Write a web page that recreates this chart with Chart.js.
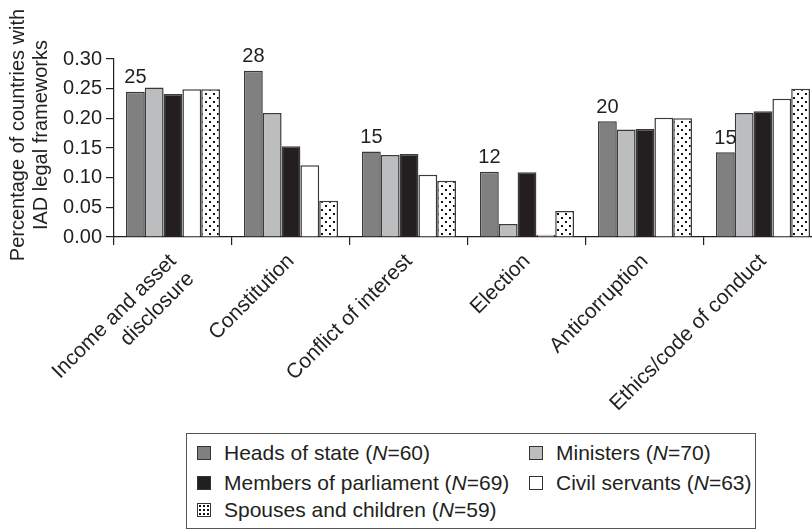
<!DOCTYPE html>
<html>
<head>
<meta charset="utf-8">
<script src="https://cdn.jsdelivr.net/npm/chart.js@4.4.1/dist/chart.umd.min.js"></script>
<style>
  html, body { margin: 0; padding: 0; background: #fff; overflow: hidden; width: 812px; height: 530px; }
  #wrap { position: absolute; left: 0; top: 0; width: 830px; height: 430px; }
  #legend { position: absolute; left: 186px; top: 433px; width: 570px; height: 96px; border: 1px solid #555;
            box-sizing: border-box; font-family: 'Liberation Sans', Arial, sans-serif; font-size: 21px; color: #231f20; }
  .item { position: absolute; height: 24px; line-height: 24px; display: flex; align-items: center; white-space: nowrap; }
  .sw { width: 12px; height: 12px; border: 1px solid #333; margin-right: 13px; flex: none; }
</style>
</head>
<body>
<div id="wrap"><canvas id="chart" width="830" height="430"></canvas></div>
<div id="legend"></div>
<script>
const categories = [['Income and asset', 'disclosure'], 'Constitution', 'Conflict of interest', 'Election', 'Anticorruption', 'Ethics/code of conduct'];
const countLabels = ['25', '28', '15', '12', '20', '15'];

const seriesNames = ['Heads of state', 'Ministers', 'Members of parliament', 'Civil servants', 'Spouses and children'];
const seriesN = [60, 70, 69, 63, 59];

const headsOfState = [0.245, 0.280, 0.144, 0.110, 0.195, 0.143];
const ministers = [0.252, 0.209, 0.138, 0.022, 0.181, 0.209];
const parliament = [0.241, 0.153, 0.140, 0.109, 0.182, 0.212];
const civilServants = [0.249, 0.121, 0.105, 0.004, 0.201, 0.233];
const spouses = [0.249, 0.061, 0.095, 0.044, 0.200, 0.250];

const yTicks = [0, 0.05, 0.10, 0.15, 0.20, 0.25, 0.30];

const ink = '#231f20';
const font = "'Liberation Sans', Arial, sans-serif";

const ctx = document.getElementById('chart').getContext('2d');

function dotPattern() {
    const c = document.createElement('canvas');
    c.width = 8; c.height = 8;
    const g = c.getContext('2d');
    g.fillStyle = '#fff';
    g.fillRect(0, 0, 8, 8);
    g.fillStyle = '#111';
    g.fillRect(1, 1, 2, 2);
    g.fillRect(5, 5, 2, 2);
    return ctx.createPattern(c, 'repeat');
}

const fills = ['#808080', '#bcbdbf', ink, '#ffffff', dotPattern()];
const values = [headsOfState, ministers, parliament, civilServants, spouses];

// numbers above the heads-of-state bar
const countPlugin = {
    id: 'counts',
    afterDatasetsDraw(chart) {
        const c = chart.ctx;
        const meta = chart.getDatasetMeta(0);
        c.save();
        c.font = '20px ' + font;
        c.fillStyle = ink;
        c.textAlign = 'center';
        c.textBaseline = 'bottom';
        meta.data.forEach((bar, i) => c.fillText(countLabels[i], bar.x, bar.y - 4));
        c.restore();
    }
};

// two line y title, sits a bit above the axis centre
const yTitlePlugin = {
    id: 'ytitle',
    afterDraw(chart) {
        const c = chart.ctx;
        c.save();
        c.font = '20px ' + font;
        c.fillStyle = ink;
        c.textAlign = 'center';
        c.textBaseline = 'alphabetic';
        c.translate(0, 135);
        c.rotate(-Math.PI / 2);
        c.fillText('Percentage of countries with', 0, 24);
        c.fillText('IAD legal frameworks', 0, 47);
        c.restore();
    }
};

new Chart(ctx, {
    type: 'bar',
    data: {
        labels: categories,
        datasets: seriesNames.map((name, i) => ({
            label: name,
            data: values[i],
            backgroundColor: fills[i],
            borderColor: '#3a3a3a',
            borderWidth: 1.5,
            categoryPercentage: 0.797,
            barPercentage: 1
        }))
    },
    options: {
        responsive: false,
        animation: false,
        layout: { padding: { top: 59, right: 8, left: 0, bottom: 0 } },
        plugins: { legend: { display: false }, tooltip: { enabled: false } },
        scales: {
            x: {
                grid: { drawOnChartArea: false, tickLength: 8, color: ink, lineWidth: 1.2 },
                border: { color: ink, width: 1.2 },
                ticks: { color: ink, font: { family: font, size: 21 }, minRotation: 45, maxRotation: 45, padding: 4, autoSkip: false },
                afterFit(scale) { scale.height = 430 - 237; }
            },
            y: {
                min: 0,
                max: 0.30,
                grid: { drawOnChartArea: false, tickLength: 8, color: ink, lineWidth: 1.2 },
                border: { color: ink, width: 1.2 },
                afterBuildTicks(scale) { scale.ticks = yTicks.map(v => ({ value: v })); },
                ticks: { color: ink, font: { family: font, size: 20 }, padding: 4, callback: v => v.toFixed(2) },
                afterFit(scale) { scale.width = 114; }
            }
        }
    },
    plugins: [countPlugin, yTitlePlugin]
});

// legend, two columns like the original
const legendEl = document.getElementById('legend');
const legendFills = ['#808080', '#bcbdbf', ink, '#ffffff',
    'radial-gradient(circle, #111 0.9px, transparent 1.2px) 0 0/4px 4px, #fff'];
const colX = [10, 342];
const rowY = [7, 37, 64];
seriesNames.forEach((name, i) => {
    const item = document.createElement('div');
    item.className = 'item';
    item.style.left = colX[i % 2] + 'px';
    item.style.top = rowY[Math.floor(i / 2)] + 'px';
    const sw = document.createElement('span');
    sw.className = 'sw';
    sw.style.background = legendFills[i];
    const txt = document.createElement('span');
    txt.innerHTML = name + ' (<i>N</i>=' + seriesN[i] + ')';
    item.appendChild(sw);
    item.appendChild(txt);
    legendEl.appendChild(item);
});
</script>
</body>
</html>
